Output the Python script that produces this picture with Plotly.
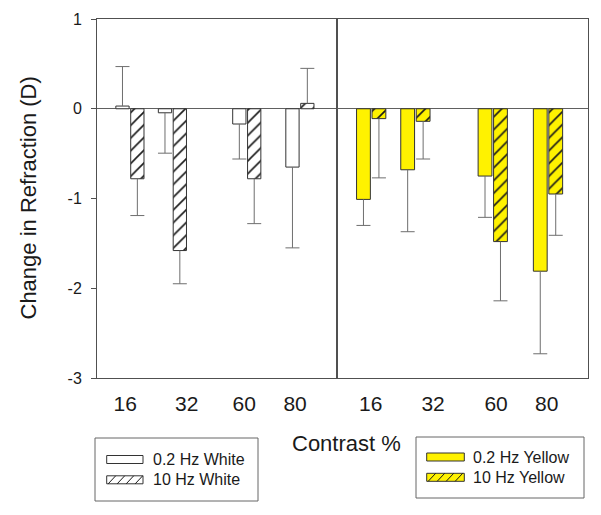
import plotly.graph_objects as go

# ---------------- data ----------------
contrast = [16, 32, 60, 80]
tick_labels = ["16", "32", "60", "80"]

white_02 = [0.03, -0.045, -0.17, -0.65]
white_02_err = [0.44, 0.45, 0.39, 0.90]
white_10 = [-0.78, -1.58, -0.78, 0.06]
white_10_err = [0.41, 0.37, 0.50, 0.39]

yellow_02 = [-1.01, -0.68, -0.75, -1.81]
yellow_02_err = [0.29, 0.69, 0.46, 0.92]
yellow_10 = [-0.11, -0.14, -1.48, -0.95]
yellow_10_err = [0.66, 0.42, 0.66, 0.46]

y_ticks = [-3, -2, -1, 0, 1]

# ---------------- layout constants ----------------
PAGE_W, PAGE_H = 601, 515
BODY = 8                      # default body margin of the html page
W, H = PAGE_W - BODY, PAGE_H - BODY
L, R, T, B = 97, 588, 19, 378   # plot area in page pixels
SPLIT = 337
FONT = "Arial, Liberation Sans, sans-serif"
YELLOW = "#FFF200"
EDGE = "#333333"
ERRC = "#6e6e6e"
FRAME = "#505050"
BW = 5.0
OFF_02 = -5.3
OFF_10 = 0.3

# label positions (in contrast units) as placed in the original
tickpos_left = [14.2, 37.4, 59.0, 78.2]
tickpos_right = [15.8, 38.4, 61.2, 79.5]


def pxx(x):
    return (x - L) / (R - L)


def pxy(y):
    return (B - y) / (B - T)


fig = go.Figure()


def add_series(values, errs, off, fill, hatch, xa, ya):
    plus = [e if v >= 0 else 0 for v, e in zip(values, errs)]
    minus = [e if v < 0 else 0 for v, e in zip(values, errs)]
    marker = dict(color=fill, line=dict(color=EDGE, width=1))
    if hatch:
        marker["pattern"] = dict(shape="/", fgcolor="#1a1a1a", bgcolor=fill,
                                 size=9, solidity=0.18, fillmode="replace")
    fig.add_trace(go.Bar(
        x=contrast, y=values, offset=off, width=BW, marker=marker,
        error_y=dict(type="data", symmetric=False, array=plus, arrayminus=minus,
                     width=0, thickness=1, color=ERRC),
        xaxis=xa, yaxis=ya, showlegend=False, hoverinfo="skip"))
    # error-bar caps (at the far end only)
    fig.add_trace(go.Scatter(
        x=[c + off + BW / 2 for c in contrast],
        y=[v + e if v >= 0 else v - e for v, e in zip(values, errs)],
        mode="markers",
        marker=dict(symbol="line-ew", size=10, line=dict(width=1, color=ERRC)),
        xaxis=xa, yaxis=ya, showlegend=False, hoverinfo="skip"))


add_series(white_02, white_02_err, OFF_02, "white", False, "x", "y")
add_series(white_10, white_10_err, OFF_10, "white", True, "x", "y")
add_series(yellow_02, yellow_02_err, OFF_02, YELLOW, False, "x2", "y2")
add_series(yellow_10, yellow_10_err, OFF_10, YELLOW, True, "x2", "y2")

d_split = (SPLIT - L) / (R - L)
tickfont_x = dict(family=FONT, size=21, color="#1a1a1a")

common_x = dict(showline=True, mirror=True, linecolor=FRAME, linewidth=1,
                ticks="", showgrid=False, zeroline=False, tickfont=tickfont_x,
                ticklabelstandoff=7, fixedrange=True, automargin=False)
common_y = dict(range=[-3, 1], showline=True, mirror=True, linecolor=FRAME,
                linewidth=1, showgrid=False, zeroline=True, zerolinecolor="#606060",
                zerolinewidth=1, fixedrange=True, automargin=False)

fig.update_layout(
    width=W, height=H, autosize=False,
    margin=dict(l=L - BODY, r=PAGE_W - R, t=T - BODY, b=PAGE_H - B, pad=0,
                autoexpand=False),
    paper_bgcolor="white", plot_bgcolor="white",
    barmode="overlay",
    font=dict(family=FONT, color="#1a1a1a"),
    xaxis=dict(domain=[0, d_split], range=[3.61, 93.97], anchor="y",
               tickvals=tickpos_left, ticktext=tick_labels, **common_x),
    xaxis2=dict(domain=[d_split, 1], range=[3.62, 94.48], anchor="y2",
                tickvals=tickpos_right, ticktext=tick_labels, **common_x),
    yaxis=dict(domain=[0, 1], anchor="x", tickvals=y_ticks,
               ticktext=[str(v) for v in y_ticks], ticks="outside", ticklen=5,
               tickcolor=FRAME, ticklabelstandoff=6,
               tickfont=dict(family=FONT, size=16, color="#1a1a1a"), **common_y),
    yaxis2=dict(domain=[0, 1], anchor="x2", showticklabels=False, ticks="",
                **common_y),
    showlegend=False,
)

annotations = [
    dict(text="Change in Refraction (D)", x=pxx(28), y=0.5, xref="paper", yref="paper",
         textangle=-90, showarrow=False, xanchor="center", yanchor="middle",
         font=dict(family=FONT, size=22, color="#1a1a1a")),
    dict(text="Contrast %", x=pxx(346.7), y=pxy(443), xref="paper", yref="paper",
         showarrow=False, xanchor="center", yanchor="middle",
         font=dict(family=FONT, size=22, color="#1a1a1a")),
]
shapes = []

legends = [
    dict(box=(95, 438, 258, 501), sym_x=(106.7, 143), text_x=151,
         rows=[(459.5, "0.2 Hz White", "white", False),
               (479.8, "10 Hz White", "white", True)]),
    dict(box=(416, 437, 584, 498), sym_x=(426.7, 464.3), text_x=471,
         rows=[(457, "0.2 Hz Yellow", YELLOW, False),
               (477.3, "10 Hz Yellow", YELLOW, True)]),
]

for lg in legends:
    x0, y0, x1, y1 = lg["box"]
    shapes.append(dict(type="rect", xref="paper", yref="paper",
                       x0=pxx(x0), x1=pxx(x1), y0=pxy(y1), y1=pxy(y0),
                       line=dict(color="#666666", width=1), fillcolor="rgba(0,0,0,0)"))
    sx0, sx1 = lg["sym_x"]
    for cy, label, fill, hatch in lg["rows"]:
        top, bot = cy - 4, cy + 4
        shapes.append(dict(type="rect", xref="paper", yref="paper",
                           x0=pxx(sx0), x1=pxx(sx1), y0=pxy(bot), y1=pxy(top),
                           line=dict(color=EDGE, width=1), fillcolor=fill))
        if hatch:
            path = ""
            for k in range(4):
                bx = sx0 + 1.5 + k * 9
                path += f"M{pxx(bx)},{pxy(bot)} L{pxx(bx + 7.5)},{pxy(top)} "
            shapes.append(dict(type="path", xref="paper", yref="paper", path=path,
                               line=dict(color="#1a1a1a", width=1)))
        annotations.append(dict(text=label, x=pxx(lg["text_x"]), y=pxy(cy),
                                xref="paper", yref="paper", showarrow=False,
                                xanchor="left", yanchor="middle",
                                font=dict(family=FONT, size=16, color="#1a1a1a")))

fig.update_layout(annotations=annotations, shapes=shapes)

fig.write_html("out.html")
